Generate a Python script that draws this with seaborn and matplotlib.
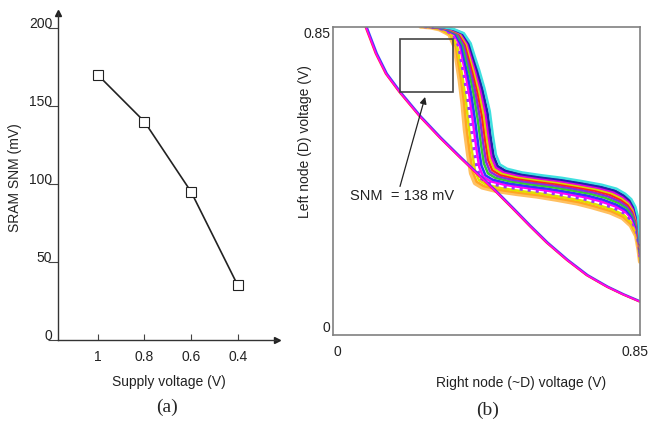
import numpy as np
import matplotlib
matplotlib.use("Agg")
import matplotlib.pyplot as plt
import matplotlib.transforms as mtransforms
import seaborn as sns
from matplotlib.patches import Rectangle

# ---------------- data: panel (a) ----------------
supply_voltage = [1.0, 0.8, 0.6, 0.4]
snm_mv = [170, 140, 95, 35]
a_yticks = [0, 50, 100, 150, 200]
a_xticks = [1.0, 0.8, 0.6, 0.4]
a_xticklabels = ["1", "0.8", "0.6", "0.4"]

# ---------------- data: panel (b) ----------------
# single (thin) transfer curve
thin_x = [0.091, 0.119, 0.147, 0.185, 0.241, 0.296, 0.352, 0.396, 0.454,
          0.498, 0.545, 0.592, 0.648, 0.703, 0.759, 0.803, 0.850]
thin_y = [0.850, 0.777, 0.721, 0.670, 0.603, 0.545, 0.490, 0.448, 0.393,
          0.349, 0.301, 0.255, 0.207, 0.165, 0.133, 0.112, 0.092]
# centre of the Monte-Carlo band of transfer curves
band_x = [0.262, 0.290, 0.315, 0.343, 0.360, 0.368, 0.379, 0.390, 0.401,
          0.410, 0.418, 0.429, 0.449, 0.490, 0.545, 0.601, 0.656, 0.711,
          0.753, 0.789, 0.814, 0.831, 0.842, 0.847, 0.850]
band_y = [0.851, 0.849, 0.844, 0.831, 0.800, 0.764, 0.717, 0.662, 0.593,
          0.524, 0.473, 0.446, 0.434, 0.424, 0.416, 0.409, 0.400, 0.390,
          0.379, 0.365, 0.350, 0.329, 0.300, 0.262, 0.229]
# spread of the individual curves around the band centre (V)
band_offsets = [-0.036, -0.031, -0.025, -0.019, -0.013, -0.007, 0.0,
                0.006, 0.012, 0.017, 0.022, 0.027, 0.033]
band_colors = ["#FFC060", "#FFA520", "#E0E000", "#9933FF", "#FF00FF",
               "#3333FF", "#33CC33", "#8A2BE2", "#FF2020", "#D8D800",
               "#E000E0", "#2222AA", "#40E0E0"]
b_ticks = [0, 0.85]
b_ticklabels = ["0", "0.85"]

# ---------------- style ----------------
sns.set_theme(style="white")
plt.rcParams["font.family"] = ["Liberation Sans", "DejaVu Sans"]
plt.rcParams["axes.facecolor"] = "white"

W, H = 650, 430
fig = plt.figure(figsize=(6.5, 4.3), dpi=100)

# ---------------- panel (a) ----------------
ax1 = fig.add_axes([58 / W, 1 - 340 / H, (277 - 58) / W, (340 - 13) / H])
sns.lineplot(x=supply_voltage, y=snm_mv, ax=ax1, color="#222222", lw=1.2,
             marker="s", markersize=6.5, markerfacecolor="white",
             markeredgecolor="#222222", markeredgewidth=0.8)
ax1.set_xlim(1.17, 0.232)
ax1.set_ylim(0, 209.6)
for s in ["top", "right"]:
    ax1.spines[s].set_visible(False)
for s in ["left", "bottom"]:
    ax1.spines[s].set_color("#333333")
    ax1.spines[s].set_linewidth(1.0)
ax1.plot(0, 1, "^", color="#222222", ms=4, transform=ax1.transAxes, clip_on=False)
ax1.plot(1, 0, ">", color="#222222", ms=4, transform=ax1.transAxes, clip_on=False)
ax1.set_yticks(a_yticks)
ax1.set_xticks(a_xticks, a_xticklabels)
ax1.tick_params(axis="y", direction="out", length=7.2, width=0.8, pad=-3,
                labelsize=10, color="#444444", labelcolor="#222222", left=True)
ax1.tick_params(axis="x", direction="in", length=4.5, width=0.8, pad=7,
                labelsize=10, color="#444444", labelcolor="#222222", bottom=True)
for lbl in ax1.get_yticklabels():
    lbl.set_verticalalignment("baseline")
ax1.set_ylabel("SRAM SNM (mV)", fontsize=10, color="#222222")
ax1.yaxis.label.set_va("center")
ax1.yaxis.set_label_coords((15 - 58) / 219, 0.498)
ax1.set_xlabel("Supply voltage (V)", fontsize=10, color="#222222")
ax1.xaxis.label.set_va("center")
ax1.xaxis.set_label_coords((169 - 58) / 219, (340 - 382) / 327)

# ---------------- panel (b) ----------------
ax2 = fig.add_axes([333 / W, 1 - 335 / H, 307 / W, 308 / H])
bx = np.array(band_x)
by = np.array(band_y)
gx = 0.55 + 0.45 * np.clip((0.85 - by) / 0.25, 0, 1)
gx = gx * np.clip((0.85 - bx) / 0.1, 0, 1)
gy = np.clip((0.85 - by) / 0.25, 0, 1)
for off, col in zip(band_offsets, band_colors):
    lw, ls = 1.8, "-"
    if col == "#FFC060":
        lw = 3.0
    if col == "#9933FF":
        lw, ls = 2.2, ":"
    sns.lineplot(x=bx + off * gx, y=by + off * 0.75 * gy, ax=ax2, sort=False,
                 estimator=None, color=col, lw=lw, ls=ls)

tx = np.array(thin_x)
ty = np.array(thin_y)
for dx, col, lw in [(0.002, "#4040FF", 1.8), (-0.001, "#FF3030", 1.5), (0.0, "#FF00FF", 1.1)]:
    sns.lineplot(x=tx + dx, y=ty, ax=ax2, sort=False, estimator=None,
                 color=col, lw=lw)

ax2.set_xlim(0, 0.85)
ax2.set_ylim(0, 0.85)
for s in ax2.spines.values():
    s.set_visible(True)
    s.set_color("#808080")
    s.set_linewidth(1.2)
ax2.set_xticks(b_ticks, b_ticklabels)
ax2.set_yticks(b_ticks, b_ticklabels)
ax2.tick_params(axis="x", length=0, pad=7, labelsize=10, labelcolor="#222222")
ax2.tick_params(axis="y", length=0, pad=2, labelsize=10, labelcolor="#222222")
xl = ax2.get_xticklabels()
xl[0].set_ha("left")
xl[1].set_transform(xl[1].get_transform() +
                    mtransforms.ScaledTranslation(-5 / 100, 0, fig.dpi_scale_trans))
ax2.get_yticklabels()[0].set_va("bottom")
ax2.get_yticklabels()[1].set_va("top")
ax2.set_ylabel("Left node (D) voltage (V)", fontsize=10, color="#222222")
ax2.yaxis.label.set_va("center")
ax2.yaxis.set_label_coords((305 - 333) / 307, (335 - 142) / 308)
ax2.set_xlabel("Right node (~D) voltage (V)", fontsize=10, color="#222222")
ax2.xaxis.label.set_va("center")
ax2.xaxis.set_label_coords((521 - 333) / 307, (335 - 383) / 308)

ax2.add_patch(Rectangle((0.1855, 0.670), 0.147, 0.147, fill=False,
                        ec="#444444", lw=1.2, zorder=5))
ax2.annotate("", xy=(0.255, 0.657), xytext=(0.1855, 0.410),
             arrowprops=dict(arrowstyle="-|>", color="#222222", lw=0.9,
                             mutation_scale=10, shrinkA=0, shrinkB=0))
ax2.text(0.047, 0.384, "SNM  = 138 mV", fontsize=10.5, va="center",
         ha="left", color="#222222")

fig.text(167 / W, 1 - 407 / H, "(a)", fontsize=14, ha="center", va="center",
         family=["Liberation Serif", "DejaVu Serif"])
fig.text(488 / W, 1 - 410 / H, "(b)", fontsize=14, ha="center", va="center",
         family=["Liberation Serif", "DejaVu Serif"])

fig.savefig("out.png", dpi=100)
